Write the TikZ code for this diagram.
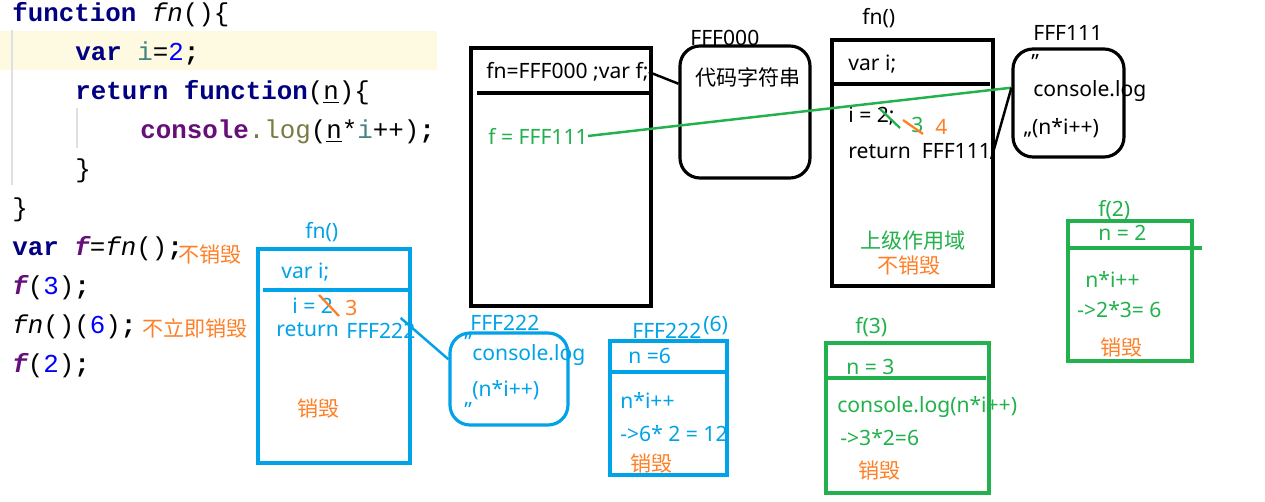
\documentclass[tikz,border=0pt]{standalone}
\usepackage{fontspec}
\setmainfont{Noto Sans}
\setmonofont{Liberation Mono}
\newfontfamily\cjk{Noto Sans CJK SC}
\usetikzlibrary{fit}
\definecolor{pblue}{HTML}{00A2E8}
\definecolor{pgreen}{HTML}{22B14C}
\definecolor{porange}{HTML}{FF7F27}
\definecolor{kwnavy}{HTML}{000080}
\definecolor{kwpurple}{HTML}{660E7A}
\definecolor{varteal}{HTML}{458383}
\definecolor{numblue}{HTML}{0000FF}
\definecolor{logbrown}{HTML}{7A7A43}
\definecolor{hlyellow}{HTML}{FEF9E1}
\newcommand{\dgm}{\fontsize{12}{14}\selectfont}
\newcommand{\codefont}{\ttfamily\fontsize{14.7}{17}\selectfont}
\newcommand{\zh}[1]{{\cjk #1}}
\newcommand{\kw}[1]{{\bfseries\color{kwnavy}#1}}
\newcommand{\fv}{{\bfseries\itshape\color{kwpurple}f}}
\tikzstyle{frame}=[draw,line width=1.8pt,inner sep=0pt]
\tikzstyle{codeblock}=[draw,line width=1.8pt,rounded corners=4mm,inner sep=0pt]
\tikzstyle{txt}=[inner sep=0pt,anchor=west,font=\dgm]
\tikzstyle{codeline}=[inner sep=0pt,anchor=base west,font=\codefont]
\tikzstyle{link}=[draw,line width=1.4pt]
\tikzstyle{strike}=[line width=1.3pt]
\tikzstyle{divider}=[line width=1.8pt]

\begin{document}
\begin{tikzpicture}[x=0.02cm,y=-0.02cm]
   \useasboundingbox (0,0) rectangle (1265,502);
   \fill[white] (0,0) rectangle (1265,502);

   % source code
   \fill[hlyellow] (0,31) rectangle (437,70);
   \draw[black!12, line width=0.8pt] (12,30) -- (12,185);
   \draw[black!12, line width=0.8pt] (77,108) -- (77,148);
   \node[codeline] (c1) at (12,22) {\kw{function} \textit{fn}()\{};
   \node[codeline] (c2) at (75,61) {\kw{var} {\color{varteal}i}={\color{numblue}2}{\bfseries;}};
   \node[codeline] (c3) at (75,100) {\kw{return function}(\underline{n})\{};
   \node[codeline] (c4) at (140,139) {{\bfseries\color{kwpurple}console}{\color{logbrown}.log}(\underline{n}*{\color{varteal}i}++){\bfseries;}};
   \node[codeline] (c5) at (75,178) {\}};
   \node[codeline] (c6) at (12,217) {\}};
   \node[codeline] (c7) at (12,256) {\kw{var} \fv=\textit{fn}(){\bfseries;}};
   \node[codeline] (c8) at (12,295) {\fv({\color{numblue}3}){\bfseries;}};
   \node[codeline] (c9) at (12,334) {\textit{fn}()({\color{numblue}6}){\bfseries;}};
   \node[codeline] (c10) at (12,373) {\fv({\color{numblue}2}){\bfseries;}};
   \node[txt, text=porange] (keepf) at (178,254) {\zh{不销毁}};
   \node[txt, text=porange] (notnow) at (142,328) {\zh{不立即销毁}};

   % global scope
   \node[frame, fit={(471,48) (651,306)}] (glob) {};
   \draw[divider] (477,93) -- (651,93);
   \node[txt] (globtxt) at (486,72) {fn=FFF000 ;var f;};
   \node[txt, text=pgreen] (ftxt) at (488,136) {f = FFF111};

   % FFF000 heap
   \node[codeblock, fit={(680,46) (810,178)}] (fff000) {};
   \node[txt] (fff000lbl) at (690,38) {FFF000};
   \node[txt] (srctxt) at (695,77) {\zh{代码字符串}};

   % fn() scope
   \node[frame, fit={(832,40) (993,286)}] (fnbox) {};
   \draw[divider] (832,84) -- (990,84);
   \node[txt] (fnlbl) at (862,18) {fn()};
   \node[txt] (vari) at (848,64) {var i;};
   \node[txt] (iset) at (848,116) {i = 2;};
   \node[txt, text=pgreen] (ithree) at (911,125) {3};
   \node[txt, text=porange] (ifour) at (935,127) {4};
   \draw[strike, pgreen] (880,109) -- (900,128);
   \draw[strike, porange] (903,120) -- (923,134);
   \node[txt] (rettxt) at (848,151) {return\ \ FFF111};
   \node[txt, text=pgreen] (scope) at (860,241) {\zh{上级作用域}};
   \node[txt, text=porange] (keep) at (877,265) {\zh{不销毁}};

   % FFF111 heap
   \node[codeblock, fit={(1013,49) (1124,157)}] (fff111) {};
   \node[txt] (fff111lbl) at (1033,33) {FFF111};
   \node[txt] (q1) at (1031,62) {"};
   \node[txt] (log1) at (1033,91) {console.log};
   \node[txt] (arg1) at (1023,128) {„(n*i++)};

   % second fn() scope
   \node[frame, draw=pblue, fit={(258,249) (410,463)}] (fnbox2) {};
   \draw[divider, pblue] (263,290) -- (410,290);
   \node[txt, text=pblue] (fnlbl2) at (305,232) {fn()};
   \node[txt, text=pblue] (vari2) at (281,272) {var i;};
   \node[txt, text=pblue] (iset2) at (292,306) {i = 2};
   \node[txt, text=porange] (ithree2) at (345,308) {3};
   \draw[strike, porange] (319,295) -- (339,316);
   \node[txt, text=pblue] (ret2) at (276,330) {return};
   \node[txt, text=pblue] (ptr2) at (346,331) {FFF222};
   \node[txt, text=porange] (gone2) at (297,408) {\zh{销毁}};

   % FFF222 heap
   \node[codeblock, draw=pblue, fit={(450,333) (568,425)}] (fff222) {};
   \node[txt, text=pblue] (fff222lbl) at (470,323) {FFF222};
   \node[txt, text=pblue] (q2) at (464,342) {"};
   \node[txt, text=pblue] (log2) at (472,355) {console.log};
   \node[txt, text=pblue] (arg2) at (472,390) {(n*i++)};
   \node[txt, text=pblue] (q3) at (464,410) {"};

   % FFF222(6) call
   \node[frame, draw=pblue, fit={(610,341) (727,475)}] (call6) {};
   \draw[divider, pblue] (610,372) -- (727,372);
   \node[txt, text=pblue] (call6lbl) at (632,331) {FFF222};
   \node[txt, text=pblue] (call6arg) at (703,326) {(6)};
   \node[txt, text=pblue] (n6) at (628,356) {n =6};
   \node[txt, text=pblue] (expr6) at (620,400) {n*i++};
   \node[txt, text=pblue] (res6) at (620,434) {->6* 2 = 12};
   \node[txt, text=porange] (gone6) at (630,463) {\zh{销毁}};

   % f(3) call
   \node[frame, draw=pgreen, fit={(826,343) (989,493)}] (call3) {};
   \draw[divider, pgreen] (824,378) -- (986,378);
   \node[txt, text=pgreen] (call3lbl) at (855,327) {f(3)};
   \node[txt, text=pgreen] (n3) at (846,367) {n = 3};
   \node[txt, text=pgreen] (expr3) at (837,407) {console.log(n*i++)};
   \node[txt, text=pgreen] (res3) at (840,438) {->3*2=6};
   \node[txt, text=porange] (gone3) at (858,470) {\zh{销毁}};

   % f(2) call
   \node[frame, draw=pgreen, fit={(1068,221) (1192,361)}] (call2) {};
   \draw[divider, pgreen] (1068,248) -- (1202,248);
   \node[txt, text=pgreen] (call2lbl) at (1098,210) {f(2)};
   \node[txt, text=pgreen] (n2) at (1098,233) {n = 2};
   \node[txt, text=pgreen] (expr2) at (1085,279) {n*i++};
   \node[txt, text=pgreen] (res2) at (1077,310) {->2*3= 6};
   \node[txt, text=porange] (gone2b) at (1100,347) {\zh{销毁}};

   % references
   \draw[link] (globtxt.east) -- (fff000.157);
   \draw[link, pgreen] (ftxt.east) -- (fff111.165);
   \draw[link] (rettxt.south east) -- (fff111.165);
   \draw[link, pblue, shorten <=-4mm] (ptr2.east) -- (fff222.162);
\end{tikzpicture}
\end{document}
